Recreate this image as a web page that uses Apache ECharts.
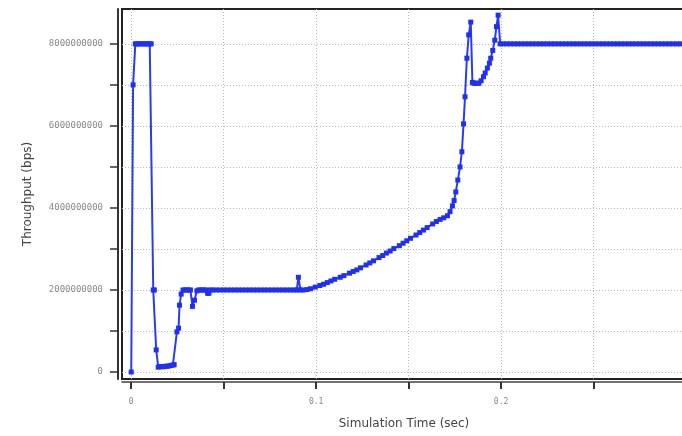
<!DOCTYPE html>
<html>
<head>
<meta charset="utf-8">
<script src="https://cdn.jsdelivr.net/npm/echarts@6/dist/echarts.min.js"></script>
<style>
html,body{margin:0;padding:0;background:#fff;}
#c{width:682px;height:436px;}
</style>
</head>
<body>
<div id="c"></div>
<script>
// Simulation time (sec)
const timeSec = [
  0, 0.001, 0.0022, 0.003, 0.004, 0.005, 0.006, 0.007, 0.008, 0.009, 0.010, 0.0108,
  0.0119, 0.0125, 0.0135, 0.0146, 0.0155, 0.0165, 0.0175, 0.0185, 0.0195, 0.0205, 0.0215, 0.0225, 0.0232,
  0.0247, 0.0256, 0.0261, 0.027, 0.028, 0.029, 0.030, 0.031, 0.032, 0.0331, 0.0342, 0.0355,
  0.0365, 0.0375, 0.0385, 0.0395, 0.0405, 0.0413, 0.042, 0.0428,
  0.044, 0.046, 0.048, 0.050, 0.052, 0.054, 0.056, 0.058, 0.060, 0.062, 0.064, 0.066,
  0.068, 0.070, 0.072, 0.074, 0.076, 0.078, 0.080, 0.082, 0.084, 0.086, 0.088,
  0.0895, 0.0904, 0.0915, 0.093, 0.095, 0.097, 0.0995, 0.102, 0.104, 0.106, 0.108, 0.110,
  0.113, 0.115, 0.118, 0.120, 0.122, 0.124, 0.127, 0.129, 0.131, 0.134, 0.136, 0.138,
  0.140, 0.142, 0.145, 0.147, 0.149, 0.151, 0.154, 0.156, 0.158, 0.160, 0.163, 0.165,
  0.167, 0.169, 0.171, 0.1724, 0.1737, 0.1746, 0.1755, 0.1766, 0.1778, 0.1788, 0.1797,
  0.1805, 0.1815, 0.1825, 0.1836, 0.1845, 0.1853, 0.186, 0.187, 0.188, 0.1892, 0.1905,
  0.1914, 0.1926, 0.1937, 0.1944, 0.1955, 0.1966, 0.1975, 0.1984, 0.1995,
  0.201, 0.203, 0.205, 0.207, 0.209, 0.211, 0.213, 0.215, 0.217, 0.219,
  0.221, 0.223, 0.225, 0.227, 0.229, 0.231, 0.233, 0.235, 0.237, 0.239,
  0.241, 0.243, 0.245, 0.247, 0.249, 0.251, 0.253, 0.255, 0.257, 0.259,
  0.261, 0.263, 0.265, 0.267, 0.269, 0.271, 0.273, 0.275, 0.277, 0.279,
  0.281, 0.283, 0.285, 0.287, 0.289, 0.291, 0.293, 0.295, 0.297, 0.299
];
// Throughput in units of 1e9 bps
const throughputGbps = [
  0, 7.0, 8.0, 8.0, 8.0, 8.0, 8.0, 8.0, 8.0, 8.0, 8.0, 8.0,
  2.0, 2.0, 0.54, 0.12, 0.13, 0.13, 0.13, 0.14, 0.14, 0.15, 0.16, 0.17, 0.18,
  0.98, 1.07, 1.63, 1.9, 2.0, 2.0, 2.0, 2.0, 2.0, 1.6, 1.75, 1.98,
  2.0, 2.0, 2.0, 2.0, 2.0, 1.92, 1.92, 2.0,
  2.0, 2.0, 2.0, 2.0, 2.0, 2.0, 2.0, 2.0, 2.0, 2.0, 2.0, 2.0,
  2.0, 2.0, 2.0, 2.0, 2.0, 2.0, 2.0, 2.0, 2.0, 2.0, 2.0,
  2.0, 2.31, 2.0, 2.0, 2.01, 2.03, 2.07, 2.11, 2.14, 2.18, 2.22, 2.26,
  2.31, 2.35, 2.41, 2.45, 2.49, 2.54, 2.61, 2.66, 2.71, 2.79, 2.84, 2.90,
  2.95, 3.01, 3.08, 3.14, 3.20, 3.26, 3.34, 3.40, 3.46, 3.52, 3.61, 3.67,
  3.72, 3.76, 3.81, 3.91, 4.05, 4.18, 4.39, 4.68, 5.0, 5.37, 6.05,
  6.71, 7.65, 8.22, 8.53, 7.06, 7.04, 7.04, 7.04, 7.04, 7.1, 7.2,
  7.29, 7.41, 7.53, 7.65, 7.84, 8.09, 8.42, 8.70, 8.0,
  8.0, 8.0, 8.0, 8.0, 8.0, 8.0, 8.0, 8.0, 8.0, 8.0,
  8.0, 8.0, 8.0, 8.0, 8.0, 8.0, 8.0, 8.0, 8.0, 8.0,
  8.0, 8.0, 8.0, 8.0, 8.0, 8.0, 8.0, 8.0, 8.0, 8.0,
  8.0, 8.0, 8.0, 8.0, 8.0, 8.0, 8.0, 8.0, 8.0, 8.0,
  8.0, 8.0, 8.0, 8.0, 8.0, 8.0, 8.0, 8.0, 8.0, 8.0
];
const xTickValues = [0, 0.05, 0.1, 0.15, 0.2, 0.25, 0.3];
const xLabelValues = [0, 0.1, 0.2];
const xLabelTexts = ['0', '0.1', '0.2'];
const yTickValues = [0, 1, 2, 3, 4, 5, 6, 7, 8];
const yLabelValues = [0, 2, 4, 6, 8];
const yLabelTexts = ['0', '2000000000', '4000000000', '6000000000', '8000000000'];
const xTitle = 'Simulation Time (sec)';
const yTitle = 'Throughput (bps)';

const seriesData = timeSec.map((t, i) => [t, throughputGbps[i]]);

const chart = echarts.init(document.getElementById('c'), null, {renderer: 'canvas'});
const gridLine = {show: true, lineStyle: {color: '#b8b8b8', type: [1, 2], width: 1}};
chart.setOption({
  animation: false,
  backgroundColor: '#ffffff',
  grid: {left: 122, top: 9, width: 564, bottom: 57, containLabel: false, outerBoundsMode: 'none',
    show: true, borderColor: '#222', borderWidth: 2, backgroundColor: 'transparent'},
  xAxis: {
    type: 'value', min: -0.005, max: 0.3, offset: 3,
    name: xTitle, nameLocation: 'middle', nameGap: 36,
    nameTextStyle: {fontFamily: 'DejaVu Sans', fontSize: 12, color: '#444'},
    axisLine: {show: true, onZero: false, lineStyle: {color: '#444', width: 1.5}},
    axisTick: {show: true, length: 7, customValues: xTickValues, lineStyle: {color: '#333', width: 2}},
    axisLabel: {customValues: xLabelValues, margin: 16, fontFamily: 'DejaVu Sans Mono', fontSize: 8, color: '#888',
      formatter: v => xLabelTexts[xLabelValues.findIndex(x => Math.abs(x - v) < 1e-9)] || ''},
    splitLine: gridLine
  },
  yAxis: {
    type: 'value', min: -0.17, max: 8.85, offset: 4,
    name: yTitle, nameLocation: 'middle', nameGap: 84,
    nameTextStyle: {fontFamily: 'DejaVu Sans', fontSize: 12, color: '#444'},
    axisLine: {show: true, onZero: false, lineStyle: {color: '#333', width: 2}},
    axisTick: {show: true, length: 8, customValues: yTickValues, lineStyle: {color: '#333', width: 1.5}},
    axisLabel: {customValues: yLabelValues, margin: 15, fontFamily: 'DejaVu Sans Mono', fontSize: 9, color: '#888',
      formatter: v => yLabelTexts[yLabelValues.findIndex(y => Math.abs(y - v) < 1e-9)] || ''},
    splitLine: gridLine
  },
  series: [{
    type: 'line',
    data: seriesData,
    symbol: 'rect',
    symbolSize: 5,
    showAllSymbol: true,
    itemStyle: {color: '#1f30f2'},
    lineStyle: {color: '#2a3cf0', width: 2},
    clip: true
  }]
});
</script>
</body>
</html>
